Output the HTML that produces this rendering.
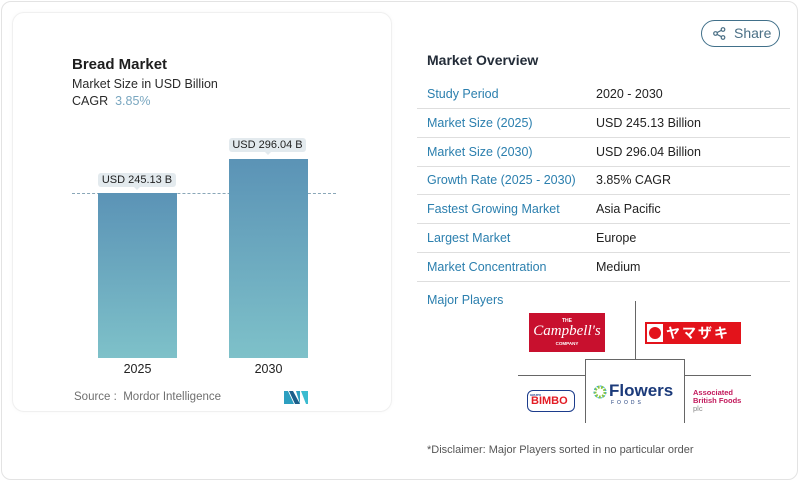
<!DOCTYPE html>
<html><head><meta charset="utf-8">
<style>
*{margin:0;padding:0;box-sizing:border-box}
html,body{width:800px;height:482px;background:#fff;font-family:"Liberation Sans","Noto Sans CJK JP",sans-serif;overflow:hidden}
.outer{position:absolute;left:1px;top:1px;width:797px;height:479px;border:1px solid #e3e3e3;border-radius:10px;background:#fff}
.inner{position:absolute;left:12px;top:12px;width:380px;height:400px;border:1px solid #f0f0f0;border-radius:12px;background:#fff;box-shadow:0 0 4px rgba(0,0,0,0.03)}
.abs{position:absolute;white-space:nowrap}
.bar{position:absolute;background:linear-gradient(#5b93b6,#7ec1c9)}
.lbl{position:absolute;background:#e3eaee;border-radius:3px;font-size:11px;color:#222;text-align:center;line-height:14px}
.lbl:after{content:"";position:absolute;left:50%;bottom:-3px;margin-left:-3px;border-left:3px solid transparent;border-right:3px solid transparent;border-top:3px solid #e3eaee}
.row{position:absolute;left:417px;width:373px;height:29px;border-bottom:1px solid #dedede}
.row .k{position:absolute;left:10px;top:7px;font-size:12.5px;color:#2b7fae}
.row .v{position:absolute;left:179px;top:7px;font-size:12.5px;color:#222}
</style></head><body>
<div class="outer"></div>
<div class="inner"></div>
<div class="abs" style="left:72px;top:56px;font-size:15px;font-weight:bold;color:#1e1e1e">Bread Market</div>
<div class="abs" style="left:72px;top:77px;font-size:12.5px;color:#2a2a2a">Market Size in USD Billion</div>
<div class="abs" style="left:72px;top:94px;font-size:12.5px;color:#2a2a2a">CAGR <span style="color:#7aa7c0">&nbsp;3.85%</span></div>

<div class="abs" style="left:72px;top:193px;width:264px;border-top:1px dashed #8aa7b8"></div>
<div class="bar" style="left:98px;top:193px;width:79px;height:165px"></div>
<div class="bar" style="left:229px;top:159px;width:79px;height:199px"></div>
<div class="lbl" style="left:98px;top:173px;width:78px;height:14px">USD 245.13 B</div>
<div class="lbl" style="left:229px;top:138px;width:77px;height:14px">USD 296.04 B</div>
<div class="abs" style="left:98px;top:362px;width:79px;text-align:center;font-size:12.5px;color:#222">2025</div>
<div class="abs" style="left:229px;top:362px;width:79px;text-align:center;font-size:12.5px;color:#222">2030</div>
<div class="abs" style="left:74px;top:391px;font-size:11.5px;color:#6f6f6f">Source :&nbsp; Mordor Intelligence</div>
<svg class="abs" style="left:284px;top:391px" width="24" height="13" viewBox="0 0 24 13">
<polygon points="0,0 4,0 10,13 0,13" fill="#2c9fc0"/>
<polygon points="5,0 9,0 16,13 11,13" fill="#1c5e8a"/>
<polygon points="12,0 16,0 16,13" fill="#2c9fc0"/>
<polygon points="17,0 24,0 24,13 22,13" fill="#3bbbd0"/>
</svg>

<div class="abs" style="left:701px;top:20px;width:79px;height:27px;border:1px solid #41708a;border-radius:14px"></div>
<svg class="abs" style="left:713px;top:27px" width="13" height="13" viewBox="0 0 13 13"><g fill="none" stroke="#4a6f85" stroke-width="1.2"><circle cx="10" cy="2.5" r="1.8"/><circle cx="2.5" cy="6.5" r="1.8"/><circle cx="10" cy="10.5" r="1.8"/><line x1="4" y1="5.6" x2="8.4" y2="3.3"/><line x1="4" y1="7.4" x2="8.4" y2="9.7"/></g></svg>
<div class="abs" style="left:734px;top:25px;font-size:14px;color:#4a6f85">Share</div>

<div class="abs" style="left:427px;top:52px;font-size:14px;font-weight:bold;color:#232c38">Market Overview</div>
<div class="row" style="top:80px"><span class="k">Study Period</span><span class="v">2020 - 2030</span></div>
<div class="row" style="top:109px"><span class="k">Market Size (2025)</span><span class="v">USD 245.13 Billion</span></div>
<div class="row" style="top:138px"><span class="k">Market Size (2030)</span><span class="v">USD 296.04 Billion</span></div>
<div class="row" style="top:166px"><span class="k">Growth Rate (2025 - 2030)</span><span class="v">3.85% CAGR</span></div>
<div class="row" style="top:195px"><span class="k">Fastest Growing Market</span><span class="v">Asia Pacific</span></div>
<div class="row" style="top:224px"><span class="k">Largest Market</span><span class="v">Europe</span></div>
<div class="row" style="top:253px"><span class="k">Market Concentration</span><span class="v">Medium</span></div>
<div class="abs" style="left:427px;top:293px;font-size:12.5px;color:#2b7fae">Major Players</div>

<!-- grid lines -->
<div class="abs" style="left:635px;top:301px;width:1px;height:58px;background:#666"></div>
<div class="abs" style="left:518px;top:375px;width:67px;height:1px;background:#666"></div>
<div class="abs" style="left:684px;top:375px;width:67px;height:1px;background:#666"></div>
<div class="abs" style="left:585px;top:359px;width:100px;height:64px;border:1px solid #666;border-bottom:none"></div>

<!-- Campbell's -->
<div class="abs" style="left:529px;top:313px;width:76px;height:39px;background:#c8102e;color:#fff;text-align:center">
<div style="font-size:5px;font-weight:bold;margin-top:5px">THE</div>
<div style="font-family:'Liberation Serif',serif;font-style:italic;font-size:15px;line-height:15px">Campbell's</div>
<div style="font-size:4.5px;font-weight:bold;margin-top:2px">COMPANY</div>
</div>
<!-- Yamazaki -->
<div class="abs" style="left:645px;top:322px;width:96px;height:22px;background:#e3131b"></div>
<div class="abs" style="left:647px;top:324px;width:16px;height:18px;background:#fff"></div>
<div class="abs" style="left:649px;top:327px;width:12px;height:12px;border-radius:50%;background:#e3131b"></div>
<div class="abs" style="left:666px;top:324px;font-size:14px;line-height:18px;font-weight:bold;color:#fff;font-family:'Liberation Sans','Noto Sans CJK JP',sans-serif;letter-spacing:2px">ヤマザキ</div>
<!-- Bimbo -->
<div class="abs" style="left:527px;top:390px;width:48px;height:22px;border:1px solid #1c3c8c;border-radius:6px;background:#fff"></div>
<div class="abs" style="left:530px;top:393px;font-size:3px;font-weight:bold;color:#1c3c8c">GRUPO</div>
<div class="abs" style="left:531px;top:395px;font-size:11px;font-weight:bold;color:#e31b23;line-height:13px">BIMBO</div>
<!-- Flowers -->
<svg class="abs" style="left:593px;top:385px" width="14" height="14" viewBox="0 0 14 14"><circle cx="7" cy="7" r="5" fill="none" stroke="#8cc63f" stroke-width="3" stroke-dasharray="2 1.5"/><circle cx="7" cy="7" r="6" fill="none" stroke="#29a9e0" stroke-width="1" stroke-dasharray="1.5 2"/></svg>
<div class="abs" style="left:609px;top:381px;font-size:17px;font-weight:bold;color:#1b3a7a;line-height:20px">Flowers</div>
<div class="abs" style="left:611px;top:400px;font-size:5px;letter-spacing:3px;color:#1b3a7a">FOODS</div>
<!-- ABF -->
<div class="abs" style="left:693px;top:389px;font-size:7.5px;line-height:8px;font-weight:bold;color:#c2185b">Associated<br>British Foods</div>
<div class="abs" style="left:693px;top:405px;font-size:7.5px;line-height:8px;color:#888">plc</div>

<div class="abs" style="left:427px;top:444px;font-size:11px;color:#555">*Disclaimer: Major Players sorted in no particular order</div>
</body></html>
